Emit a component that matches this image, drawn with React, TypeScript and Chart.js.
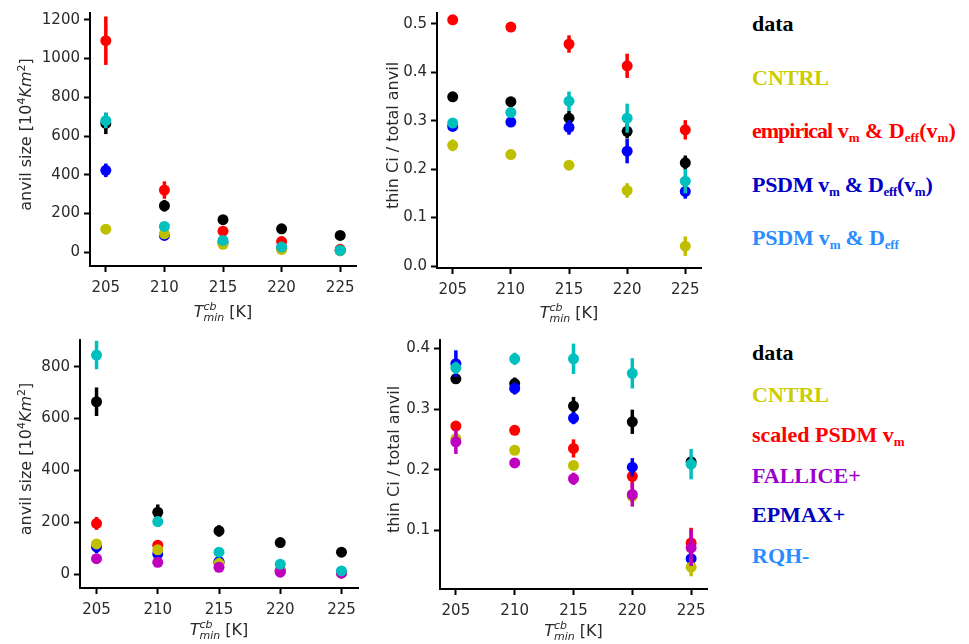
import React, { useEffect, useRef } from 'react';
import { Chart, registerables } from 'chart.js';
Chart.register(...registerables);

// ---------- data ----------
const temps = [205, 210, 215, 220, 225];
const xTicks = [205, 210, 215, 220, 225];

const sizeTicksTop = [0, 200, 400, 600, 800, 1000, 1200];
const fracTicksTop = [0, 0.1, 0.2, 0.3, 0.4, 0.5];
const sizeTicksBottom = [0, 200, 400, 600, 800];
const fracTicksBottom = [0.1, 0.2, 0.3, 0.4];

// top-left: anvil size
const aData = [665, 240, 168, 121, 87];
const aDataErr = [55, 30, 20, 15, 8];
const aCntrl = [119, 95, 41, 14, 8];
const aCntrlErr = [10, 8, 6, 4, 3];
const aEmp = [1092, 321, 109, 55, 15];
const aEmpErr = [125, 45, 10, 6, 4];
const aPsdmVm = [423, 87, 50, 20, 8];
const aPsdmVmErr = [35, 10, 6, 4, 3];
const aPsdm = [680, 133, 61, 27, 10];
const aPsdmErr = [40, 10, 6, 4, 3];

// top-right: thin Ci fraction
const bData = [0.349, 0.339, 0.305, 0.278, 0.213];
const bDataErr = [0.005, 0.01, 0.015, 0.015, 0.015];
const bCntrl = [0.249, 0.23, 0.208, 0.156, 0.041];
const bCntrlErr = [0.012, 0.006, 0.008, 0.015, 0.02];
const bEmp = [0.508, 0.493, 0.458, 0.413, 0.281];
const bEmpErr = [0.008, 0.008, 0.018, 0.025, 0.02];
const bPsdmVm = [0.288, 0.297, 0.286, 0.237, 0.154];
const bPsdmVmErr = [0.005, 0.01, 0.015, 0.025, 0.015];
const bPsdm = [0.295, 0.317, 0.34, 0.305, 0.175];
const bPsdmErr = [0.005, 0.01, 0.02, 0.03, 0.025];

// bottom-left: anvil size
const cData = [665, 239, 167, 122, 85];
const cDataErr = [55, 30, 22, 18, 8];
const cCntrl = [117, 94, 42, 12, 5];
const cCntrlErr = [10, 8, 5, 4, 3];
const cScaled = [196, 112, 45, 12, 5];
const cScaledErr = [25, 10, 6, 4, 3];
const cFallice = [60, 46, 27, 8, 4];
const cFalliceErr = [15, 6, 5, 3, 2];
const cEpmax = [106, 78, 49, 15, 6];
const cEpmaxErr = [25, 8, 6, 4, 3];
const cRqh = [845, 203, 85, 39, 13];
const cRqhErr = [55, 20, 8, 6, 4];

// bottom-right: thin Ci fraction
const dData = [0.35, 0.342, 0.305, 0.279, 0.213];
const dDataErr = [0.005, 0.01, 0.015, 0.02, 0.008];
const dCntrl = [0.251, 0.232, 0.207, 0.156, 0.039];
const dCntrlErr = [0.01, 0.006, 0.006, 0.01, 0.015];
const dScaled = [0.272, 0.265, 0.235, 0.189, 0.079];
const dScaledErr = [0.006, 0.006, 0.015, 0.02, 0.025];
const dFallice = [0.246, 0.211, 0.185, 0.159, 0.071];
const dFalliceErr = [0.02, 0.008, 0.01, 0.02, 0.03];
const dEpmax = [0.375, 0.334, 0.285, 0.204, 0.053];
const dEpmaxErr = [0.022, 0.01, 0.01, 0.015, 0.015];
const dRqh = [0.368, 0.383, 0.383, 0.359, 0.209];
const dRqhErr = [0.01, 0.01, 0.025, 0.025, 0.025];

// ---------- styling ----------
const COL = {
  k: '#000000',
  y: '#bfbf00',
  r: '#ff0000',
  b: '#0000ff',
  c: '#00bfbf',
  m: '#bf00bf',
};
const FONT = 'DejaVu Sans';
const TXT = '#2a2a2a';

type Seg = { t: string; f: string; dy: number; adv?: boolean };
type Series = { label: string; values: number[]; errors: number[]; color: string };
type Panel = {
  left: number; top: number; width: number; height: number;
  yWidth: number; xHeight: number; padTop: number; padRight: number;
  yMin: number; yMax: number; yTicks: number[]; yFmt: (v: number) => string;
  yTitle: Seg[]; yTitleOffset: number; xTitleOffset: number;
  series: Series[]; // in drawing order (last on top)
};

const sizeTitle: Seg[] = [
  { t: 'anvil size [10', f: `16px "${FONT}"`, dy: 0 },
  { t: '4', f: `11px "${FONT}"`, dy: -6 },
  { t: 'Km', f: `italic 16px "${FONT}"`, dy: 0 },
  { t: '2', f: `11px "${FONT}"`, dy: -6 },
  { t: ']', f: `16px "${FONT}"`, dy: 0 },
];
const fracTitle: Seg[] = [{ t: 'thin Ci / total anvil', f: `16px "${FONT}"`, dy: 0 }];
const xTitle: Seg[] = [
  { t: 'T', f: `italic 16px "${FONT}"`, dy: 0 },
  { t: 'cb', f: `italic 11px "${FONT}"`, dy: -7, adv: false },
  { t: 'min', f: `italic 11px "${FONT}"`, dy: 4 },
  { t: ' [K]', f: `16px "${FONT}"`, dy: 0 },
];

function segWidth(ctx: CanvasRenderingContext2D, segs: Seg[]) {
  let w = 0;
  for (const s of segs) {
    ctx.font = s.f;
    if (s.adv !== false) w += ctx.measureText(s.t).width;
  }
  return w;
}
function drawSegs(ctx: CanvasRenderingContext2D, segs: Seg[], cx: number, by: number) {
  let x = cx - segWidth(ctx, segs) / 2;
  ctx.textAlign = 'left';
  ctx.textBaseline = 'alphabetic';
  ctx.fillStyle = TXT;
  for (const s of segs) {
    ctx.font = s.f;
    ctx.fillText(s.t, x, by + s.dy);
    if (s.adv !== false) x += ctx.measureText(s.t).width;
  }
}

const fmtInt = (v: number) => String(Math.round(v));
const fmt1 = (v: number) => v.toFixed(1);

const panels: Panel[] = [
  {
    left: 0, top: 0, width: 370, height: 335,
    yWidth: 90, xHeight: 69, padTop: 10, padRight: 14,
    yMin: -71, yMax: 1235, yTicks: sizeTicksTop, yFmt: fmtInt,
    yTitle: sizeTitle, yTitleOffset: -65, xTitleOffset: 51,
    series: [
      { label: 'data', values: aData, errors: aDataErr, color: COL.k },
      { label: 'empirical', values: aEmp, errors: aEmpErr, color: COL.r },
      { label: 'PSDM vm & Deff(vm)', values: aPsdmVm, errors: aPsdmVmErr, color: COL.b },
      { label: 'CNTRL', values: aCntrl, errors: aCntrlErr, color: COL.y },
      { label: 'PSDM vm & Deff', values: aPsdm, errors: aPsdmErr, color: COL.c },
    ],
  },
  {
    left: 345, top: 0, width: 370, height: 335,
    yWidth: 92, xHeight: 67, padTop: 10, padRight: 14,
    yMin: -0.004, yMax: 0.522, yTicks: fracTicksTop, yFmt: fmt1,
    yTitle: fracTitle, yTitleOffset: -45, xTitleOffset: 50,
    series: [
      { label: 'data', values: bData, errors: bDataErr, color: COL.k },
      { label: 'empirical', values: bEmp, errors: bEmpErr, color: COL.r },
      { label: 'PSDM vm & Deff(vm)', values: bPsdmVm, errors: bPsdmVmErr, color: COL.b },
      { label: 'CNTRL', values: bCntrl, errors: bCntrlErr, color: COL.y },
      { label: 'PSDM vm & Deff', values: bPsdm, errors: bPsdmErr, color: COL.c },
    ],
  },
  {
    left: 0, top: 320, width: 370, height: 324,
    yWidth: 80, xHeight: 56, padTop: 20, padRight: 12,
    yMin: -53, yMax: 903, yTicks: sizeTicksBottom, yFmt: fmtInt,
    yTitle: sizeTitle, yTitleOffset: -55, xTitleOffset: 47,
    series: [
      { label: 'data', values: cData, errors: cDataErr, color: COL.k },
      { label: 'scaled PSDM vm', values: cScaled, errors: cScaledErr, color: COL.r },
      { label: 'EPMAX+', values: cEpmax, errors: cEpmaxErr, color: COL.b },
      { label: 'CNTRL', values: cCntrl, errors: cCntrlErr, color: COL.y },
      { label: 'FALLICE+', values: cFallice, errors: cFalliceErr, color: COL.m },
      { label: 'RQH-', values: cRqh, errors: cRqhErr, color: COL.c },
    ],
  },
  {
    left: 360, top: 320, width: 360, height: 324,
    yWidth: 80, xHeight: 55, padTop: 20, padRight: 13,
    yMin: 0.003, yMax: 0.414, yTicks: fracTicksBottom, yFmt: fmt1,
    yTitle: fracTitle, yTitleOffset: -47, xTitleOffset: 47,
    series: [
      { label: 'data', values: dData, errors: dDataErr, color: COL.k },
      { label: 'scaled PSDM vm', values: dScaled, errors: dScaledErr, color: COL.r },
      { label: 'EPMAX+', values: dEpmax, errors: dEpmaxErr, color: COL.b },
      { label: 'CNTRL', values: dCntrl, errors: dCntrlErr, color: COL.y },
      { label: 'FALLICE+', values: dFallice, errors: dFalliceErr, color: COL.m },
      { label: 'RQH-', values: dRqh, errors: dRqhErr, color: COL.c },
    ],
  },
];

function PanelChart({ p }: { p: Panel }) {
  const ref = useRef<HTMLCanvasElement | null>(null);
  useEffect(() => {
    if (!ref.current) return;
    // Chart.js draws dataset 0 last (on top), so reverse the drawing order
    const ordered = [...p.series].reverse();
    const datasets = ordered.map((s) => ({
      label: s.label,
      data: temps.map((t, i) => ({ x: t, y: s.values[i] })),
      errs: s.errors,
      backgroundColor: s.color,
      borderColor: s.color,
      pointRadius: 5.5,
      pointHoverRadius: 5.5,
      pointBorderWidth: 0,
      showLine: false,
    }));

    const errorBars = {
      id: 'errorBars',
      beforeDatasetDraw(chart: any, args: any) {
        const ds: any = chart.data.datasets[args.index];
        const ys = chart.scales.y;
        const ctx = chart.ctx as CanvasRenderingContext2D;
        const a = chart.chartArea;
        ctx.save();
        ctx.beginPath();
        ctx.rect(a.left, a.top, a.right - a.left, a.bottom - a.top);
        ctx.clip();
        ctx.strokeStyle = ds.borderColor;
        ctx.lineWidth = 3.5;
        ctx.lineCap = 'butt';
        args.meta.data.forEach((el: any, i: number) => {
          const v = ds.data[i].y;
          const e = ds.errs[i];
          ctx.beginPath();
          ctx.moveTo(el.x, ys.getPixelForValue(v - e));
          ctx.lineTo(el.x, ys.getPixelForValue(v + e));
          ctx.stroke();
        });
        ctx.restore();
      },
    };

    const titles = {
      id: 'richTitles',
      afterDraw(chart: any) {
        const ctx = chart.ctx as CanvasRenderingContext2D;
        const a = chart.chartArea;
        ctx.save();
        drawSegs(ctx, xTitle, (a.left + a.right) / 2, a.bottom + p.xTitleOffset);
        ctx.translate(a.left + p.yTitleOffset, (a.top + a.bottom) / 2 - 5);
        ctx.rotate(-Math.PI / 2);
        drawSegs(ctx, p.yTitle, 0, 6);
        ctx.restore();
      },
    };

    const tickFont = { family: FONT, size: 15 };
    const chart = new Chart(ref.current, {
      type: 'scatter',
      data: { datasets: datasets as any },
      options: {
        responsive: false,
        animation: false,
        devicePixelRatio: 1,
        layout: { padding: { top: p.padTop, right: p.padRight, left: 0, bottom: 0 } },
        plugins: { legend: { display: false }, tooltip: { enabled: false }, title: { display: false } },
        scales: {
          x: {
            type: 'linear',
            min: 203.65,
            max: 226.35,
            afterBuildTicks: (axis: any) => { axis.ticks = xTicks.map((v) => ({ value: v })); },
            afterFit: (axis: any) => { axis.height = p.xHeight; },
            ticks: { font: tickFont, color: TXT, padding: 7, maxRotation: 0, autoSkip: false, callback: (v: any) => String(v) },
            grid: { display: true, drawOnChartArea: false, drawTicks: true, tickLength: 6, tickWidth: 2, color: '#000' },
            border: { display: true, width: 2, color: '#000' },
          },
          y: {
            type: 'linear',
            min: p.yMin,
            max: p.yMax,
            afterBuildTicks: (axis: any) => { axis.ticks = p.yTicks.map((v) => ({ value: v })); },
            afterFit: (axis: any) => { axis.width = p.yWidth; },
            ticks: { font: tickFont, color: TXT, padding: 4, autoSkip: false, callback: (v: any) => p.yFmt(Number(v)) },
            grid: { display: true, drawOnChartArea: false, drawTicks: true, tickLength: 6, tickWidth: 2, color: '#000' },
            border: { display: true, width: 2, color: '#000' },
          },
        },
      } as any,
      plugins: [errorBars, titles],
    });
    return () => chart.destroy();
  }, [p]);
  return (
    <canvas
      ref={ref}
      width={p.width}
      height={p.height}
      style={{ position: 'absolute', left: p.left, top: p.top, width: p.width, height: p.height }}
    />
  );
}

const legendFont: React.CSSProperties = {
  position: 'absolute',
  left: 752,
  fontFamily: '"Liberation Serif", "Times New Roman", serif',
  fontWeight: 'bold',
  fontSize: 22,
  lineHeight: '22px',
  whiteSpace: 'nowrap',
};
const subStyle: React.CSSProperties = {
  fontSize: 13,
  verticalAlign: 'baseline',
  position: 'relative',
  top: 4,
};

function LegendLine({ baseline, color, children, spacing }: { baseline: number; color: string; children: React.ReactNode; spacing?: number }) {
  return <div style={{ ...legendFont, top: baseline - 18.4, color, letterSpacing: spacing ?? 0 }}>{children}</div>;
}
const Sub = ({ children }: { children: React.ReactNode }) => <span style={subStyle}>{children}</span>;

export default function App() {
  return (
    <div style={{ position: 'absolute', left: 0, top: 0, width: 969, height: 644, background: '#fff', overflow: 'hidden' }}>
      {panels.map((p, i) => (
        <PanelChart key={i} p={p} />
      ))}
      <LegendLine baseline={31} color="#000000">data</LegendLine>
      <LegendLine baseline={85} color="#cccc00">CNTRL</LegendLine>
      <LegendLine baseline={138} color="#ff0000">
        <span style={{ letterSpacing: -1 }}>empirical</span> v<Sub>m</Sub> &amp; D<Sub>eff</Sub>(v<Sub>m</Sub>)
      </LegendLine>
      <LegendLine baseline={192} color="#0000c8" spacing={-0.3}>
        PSDM v<Sub>m</Sub> &amp; D<Sub>eff</Sub>(v<Sub>m</Sub>)
      </LegendLine>
      <LegendLine baseline={245} color="#2a8cff" spacing={-0.2}>
        PSDM v<Sub>m</Sub> &amp; D<Sub>eff</Sub>
      </LegendLine>

      <LegendLine baseline={360} color="#000000">data</LegendLine>
      <LegendLine baseline={402} color="#cccc00">CNTRL</LegendLine>
      <LegendLine baseline={442} color="#ff0000">
        scaled PSDM v<Sub>m</Sub>
      </LegendLine>
      <LegendLine baseline={483} color="#9900cc">FALLICE+</LegendLine>
      <LegendLine baseline={522} color="#0000c0">EPMAX+</LegendLine>
      <LegendLine baseline={563} color="#2a8cff">RQH-</LegendLine>
    </div>
  );
}
